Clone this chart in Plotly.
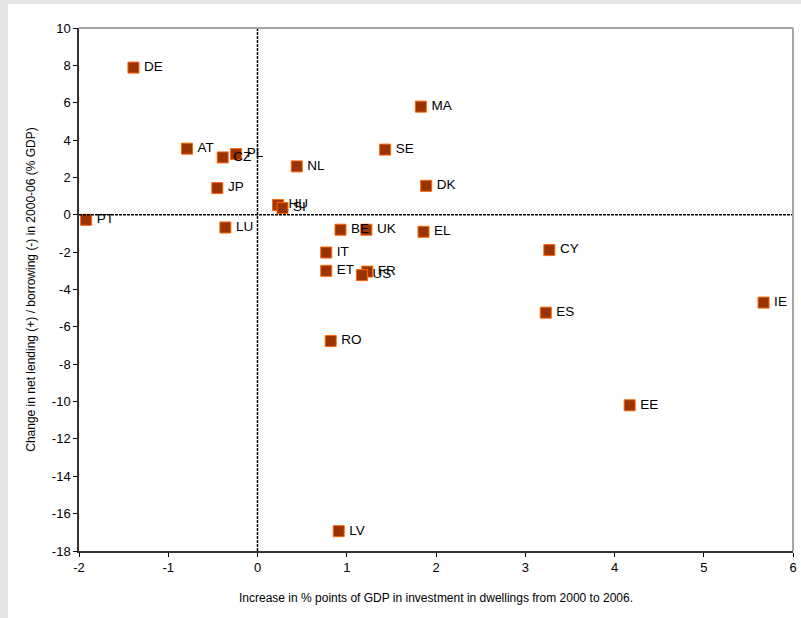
import plotly.graph_objects as go

countries = ["DE", "MA", "AT", "PL", "CZ", "NL", "SE", "DK", "JP", "HU", "SI", "PT", "LU",
             "BE", "UK", "EL", "IT", "ET", "FR", "US", "RO", "CY", "ES", "IE", "EE", "LV"]
dwelling_increase = [-1.39, 1.83, -0.79, -0.24, -0.39, 0.44, 1.43, 1.89, -0.45, 0.23, 0.28, -1.92, -0.36,
                     0.93, 1.22, 1.86, 0.77, 0.77, 1.23, 1.17, 0.82, 3.27, 3.23, 5.67, 4.17, 0.91]
net_lending_change = [7.88, 5.79, 3.54, 3.25, 3.07, 2.59, 3.49, 1.55, 1.43, 0.52, 0.36, -0.27, -0.68,
                      -0.80, -0.80, -0.91, -2.02, -3.0, -3.04, -3.23, -6.76, -1.89, -5.24, -4.70, -10.2, -16.94]
x_ticks = [-2, -1, 0, 1, 2, 3, 4, 5, 6]
x_tick_labels = ["-2", "-1", "0", "1", "2", "3", "4", "5", "6"]
y_ticks = [10, 8, 6, 4, 2, 0, -2, -4, -6, -8, -10, -12, -14, -16, -18]
y_tick_labels = ["10", "8", "6", "4", "2", "0", "-2", "-4", "-6", "-8", "-10", "-12", "-14", "-16", "-18"]

fig = go.Figure()
fig.add_trace(go.Scatter(
    x=dwelling_increase, y=net_lending_change, mode="markers+text",
    text=["\u2009" + c for c in countries], textposition="middle right",
    textfont=dict(family="Liberation Sans, Arial", size=13.5, color="black"),
    marker=dict(symbol="square", size=11, color="#993300",
                line=dict(color="#FF6600", width=1)),
    cliponaxis=False, showlegend=False,
))

font = dict(family="Liberation Sans, Arial", size=12, color="black")

shapes = [
    # grey outer frame strips
    dict(type="rect", xref="paper", yref="paper", x0=-0.12, x1=-0.0994, y0=-0.2, y1=1.1,
         fillcolor="#e4e4e4", line=dict(width=0), layer="below"),
    dict(type="rect", xref="paper", yref="paper", x0=-0.12, x1=1.1, y0=1.046, y1=1.1,
         fillcolor="#e4e4e4", line=dict(width=0), layer="below"),
    # zero lines
    dict(type="line", xref="x", yref="paper", x0=0, x1=0, y0=0, y1=1,
         line=dict(color="black", width=1.5, dash="3px,1px")),
    dict(type="line", xref="paper", yref="y", x0=0, x1=1, y0=0, y1=0,
         line=dict(color="black", width=1.5, dash="3px,1px")),
    # top and right grey borders
    dict(type="line", xref="paper", yref="paper", x0=0, x1=1, y0=1, y1=1,
         line=dict(color="#a6a6a6", width=2)),
    dict(type="line", xref="paper", yref="paper", x0=1, x1=1, y0=0, y1=1,
         line=dict(color="#a6a6a6", width=2)),
]

fig.update_layout(
    width=801, height=618,
    margin=dict(l=79, r=8, t=28, b=67),
    paper_bgcolor="white", plot_bgcolor="white",
    font=font,
    shapes=shapes,
    xaxis=dict(range=[-2, 6], tickvals=x_ticks, ticktext=x_tick_labels, ticks="outside",
               ticklen=4, tickcolor="black", automargin=False,
               showgrid=False, zeroline=False, showline=True, linecolor="#333333", linewidth=1.5,
               title=dict(text="Increase in % points of GDP in investment in dwellings from 2000 to 2006.",
                          font=dict(size=12), standoff=19),
               tickfont=dict(size=13)),
    yaxis=dict(range=[-18, 10], tickvals=y_ticks, ticktext=y_tick_labels, ticks="outside",
               ticklen=4, tickcolor="black", automargin=False,
               showgrid=False, zeroline=False, showline=True, linecolor="#333333", linewidth=1.5,
               title=dict(text="Change in net lending (+) / borrowing (-) in 2000-06 (% GDP)",
                          font=dict(size=12), standoff=14),
               tickfont=dict(size=13)),
)

fig.write_html("out.html", config={"displayModeBar": False},
               post_script="document.body.style.margin='0';")
